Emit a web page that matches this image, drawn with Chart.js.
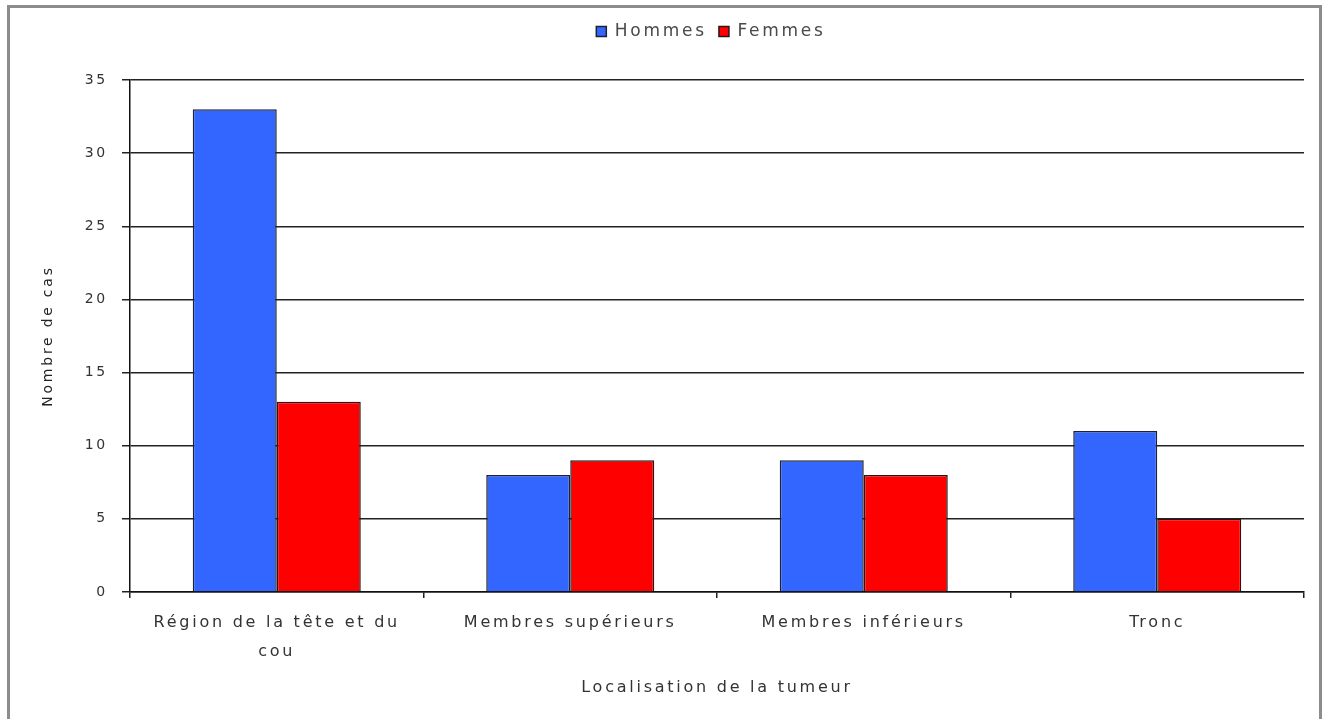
<!DOCTYPE html>
<html>
<head>
<meta charset="utf-8">
<script src="https://cdn.jsdelivr.net/npm/chart.js@4/dist/chart.umd.min.js"></script>
<style>
  html, body { margin: 0; padding: 0; background: #fff; }
  body { width: 1322px; height: 719px; position: relative; overflow: hidden; }
  #frame {
    position: absolute; left: 7px; top: 5px; width: 1315px; height: 740px;
    border: 3px solid #8c8c8c; box-sizing: border-box;
  }
  #chart { position: absolute; left: 0; top: 0; }
</style>
</head>
<body>
<div id="frame"></div>
<canvas id="chart" width="1322" height="719"></canvas>
<script>
// Tumour location by sex
const categories = [["Région de la tête et du", "cou"], "Membres supérieurs", "Membres inférieurs", "Tronc"];
const hommes = [33, 8, 9, 11];
const femmes = [13, 9, 8, 5];
const yMin = 0;
const yMax = 35;
const yStep = 5;

const FONT = "'DejaVu Sans', Verdana, sans-serif";
const LETTER_SPACING = '2.75px';
const LEGEND_BAND = 69;

// Wider letter spacing for all text, a taller legend band, and the legend centred over the plot
const layoutTweaks = {
  id: 'layoutTweaks',
  beforeUpdate(chart) {
    const lg = chart.legend;
    if (lg && !lg._bandFit) {
      const fit = lg.fit;
      lg.fit = function () {
        fit.call(this);
        if (this.isHorizontal()) this.height = LEGEND_BAND;
      };
      lg._bandFit = true;
    }
  },
  beforeLayout(chart) { chart.ctx.letterSpacing = LETTER_SPACING; },
  afterLayout(chart) {
    const lg = chart.legend, a = chart.chartArea;
    if (lg) { lg.left = a.left - 12; lg.right = a.right; }
  },
  beforeDraw(chart) { chart.ctx.letterSpacing = LETTER_SPACING; }
};

new Chart(document.getElementById('chart'), {
  type: 'bar',
  data: {
    labels: categories,
    datasets: [
      {
        label: 'Hommes',
        data: hommes,
        backgroundColor: '#3366ff',
        borderColor: '#1e2230',
        borderWidth: 1.5
      },
      {
        label: 'Femmes',
        data: femmes,
        backgroundColor: '#ff0000',
        borderColor: '#2e1414',
        borderWidth: 1.5
      }
    ]
  },
  options: {
    responsive: false,
    devicePixelRatio: 1,
    animation: false,
    layout: { padding: { left: 0, right: 18, top: 11, bottom: 0 } },
    datasets: {
      bar: { categoryPercentage: 0.5725, barPercentage: 1.0 }
    },
    plugins: {
      tooltip: { enabled: false },
      legend: {
        display: true,
        position: 'top',
        align: 'center',
        labels: {
          boxWidth: 10,
          boxHeight: 10,
          padding: 12,
          color: '#4a4a4a',
          font: { family: FONT, size: 17 }
        }
      }
    },
    scales: {
      x: {
        afterFit(scale) { scale.height = 127; },
        grid: {
          display: true,
          drawOnChartArea: false,
          drawTicks: true,
          tickLength: 6,
          offset: true,
          color: '#222',
          lineWidth: 1.5
        },
        border: { display: true, color: '#111', width: 1.5 },
        ticks: {
          color: '#333',
          padding: 10,
          maxRotation: 0,
          autoSkip: false,
          font: { family: FONT, size: 16, lineHeight: 1.8125 }
        },
        title: {
          display: true,
          text: 'Localisation de la tumeur',
          color: '#333',
          font: { family: FONT, size: 16 },
          padding: { top: 0, bottom: 22 }
        }
      },
      y: {
        min: yMin,
        max: yMax,
        afterFit(scale) { scale.width = 130; },
        grid: {
          color: '#222',
          lineWidth: 1.5,
          drawTicks: true,
          tickLength: 8
        },
        border: { display: true, color: '#111', width: 1.5 },
        ticks: {
          stepSize: yStep,
          color: '#333',
          padding: 14,
          font: { family: FONT, size: 14 }
        },
        title: {
          display: true,
          text: 'Nombre de cas',
          color: '#222',
          font: { family: FONT, size: 14 },
          padding: { top: 40, bottom: 0 }
        }
      }
    }
  },
  plugins: [layoutTweaks]
});
</script>
</body>
</html>
